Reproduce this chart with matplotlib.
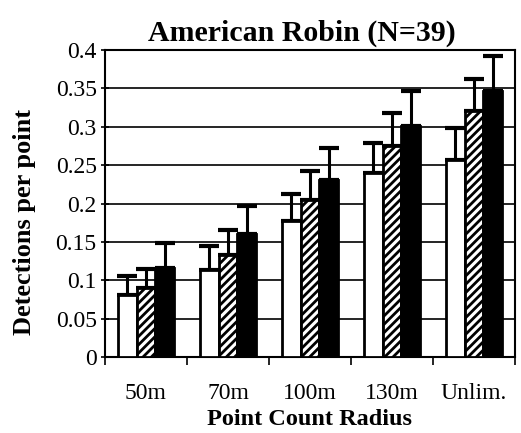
import matplotlib
matplotlib.use("Agg")
import matplotlib.pyplot as plt
import numpy as np

# detections per point by point-count radius, three series (white / hatched / black)
radii = ["50m", "70m", "100m", "130m", "Unlim."]
white = [0.081, 0.114, 0.177, 0.240, 0.257]
hatched = [0.090, 0.133, 0.205, 0.275, 0.320]
black = [0.116, 0.160, 0.231, 0.301, 0.346]
white_err = [0.024, 0.031, 0.036, 0.039, 0.041]
hatched_err = [0.025, 0.032, 0.037, 0.043, 0.042]
black_err = [0.032, 0.037, 0.041, 0.046, 0.046]

plt.rcParams["font.family"] = ["Liberation Serif", "DejaVu Serif"]
plt.rcParams["hatch.linewidth"] = 2.0

fig = plt.figure(figsize=(5.21, 4.33), dpi=100)
ax = fig.add_axes([0.2015, 0.1755, 0.787, 0.709])

x = np.arange(len(radii))
w = 0.23
series = [(white, white_err, "white", None),
          (hatched, hatched_err, "white", "////"),
          (black, black_err, "black", None)]
for i, (vals, err, fc, hatch) in enumerate(series):
    pos = x + (i - 1) * w
    ax.bar(pos, vals, w, color=fc, edgecolor="black", linewidth=2, hatch=hatch, zorder=3)
    ax.errorbar(pos, vals, yerr=[np.zeros(len(vals)), err], fmt="none", ecolor="black",
                elinewidth=2.2, capsize=7, capthick=3, zorder=2)

ax.set_ylim(0, 0.4)
ax.set_xlim(-0.5, len(radii) - 0.5)
ax.set_yticks(np.arange(0, 0.401, 0.05))
ax.set_yticklabels(["0", "0.05", "0.1", "0.15", "0.2", "0.25", "0.3", "0.35", "0.4"])
ax.yaxis.grid(True, color="black", lw=1.2)
ax.set_axisbelow(True)
ax.set_xticks(x)
ax.set_xticklabels(radii)
ax.set_xticks(np.arange(-0.5, len(radii)), minor=True)
ax.tick_params(axis="x", which="major", length=0, pad=19, labelsize=17)
ax.tick_params(axis="x", which="minor", length=6, width=1.2, direction="out")
ax.tick_params(axis="y", length=6, width=1.2, direction="inout", labelsize=17, pad=3)
for s in ax.spines.values():
    s.set_linewidth(1.5)

ax.set_xlabel("Point Count Radius", fontsize=17.5, fontweight="bold", labelpad=3)
ax.set_ylabel("Detections per point", fontsize=19, fontweight="bold", labelpad=14, y=0.44)
ax.set_title("American Robin (N=39)", fontsize=21.5, fontweight="bold", x=0.48, pad=7)

fig.savefig("out.png", dpi=100)
